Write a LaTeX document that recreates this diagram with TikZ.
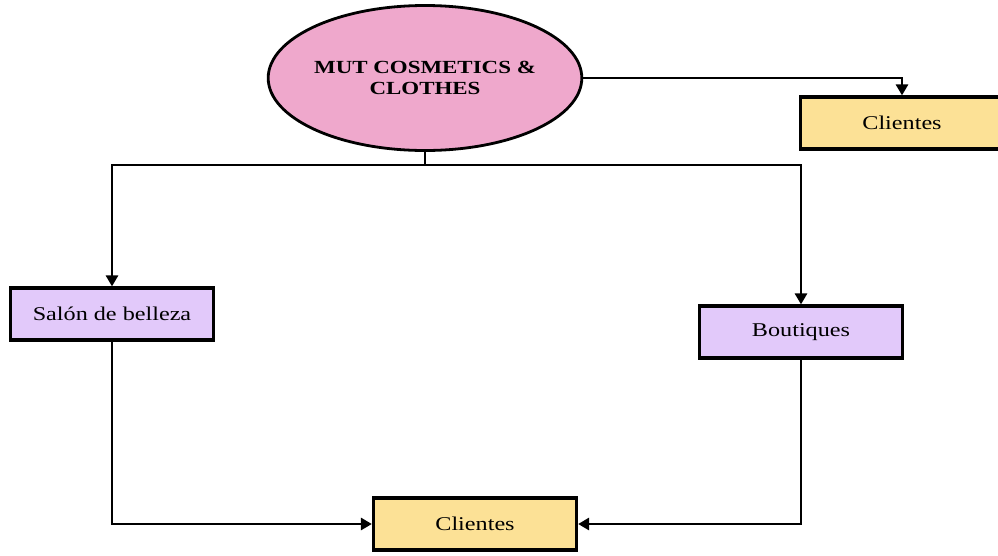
\documentclass[tikz,border=0pt]{standalone}
\usepackage{fontspec}
\setmainfont{Liberation Serif}[FakeStretch=1.24]
\usetikzlibrary{arrows.meta,shapes.geometric}
\definecolor{pinkfill}{RGB}{239,168,204}
\definecolor{lilac}{RGB}{226,201,250}
\definecolor{sand}{RGB}{252,225,150}
\tikzset{
  box/.style={draw=black, line width=3.2pt, rectangle, minimum width=203pt, minimum height=52pt,
    font=\fontsize{19.5}{20}\selectfont, inner sep=0pt},
  conn/.style={draw=black, line width=2.8pt},
  arr/.style={conn, -{Triangle[length=11pt,width=12pt]}},
}
\begin{document}
\begin{tikzpicture}[x=1pt,y=-1pt]
\useasboundingbox (0,0) rectangle (998,555);
\fill[white] (0,0) rectangle (998,555);

% central company
\node[ellipse, draw=black, line width=2.8pt, fill=pinkfill, minimum width=301pt, minimum height=145pt,
  inner sep=0pt, align=center, font=\bfseries\fontsize{18.5}{20.5}\selectfont]
  (mut) at (425,78) {MUT COSMETICS \&\\CLOTHES};

% outlets and customers
\node[box, fill=sand] (cr) at (902,123) {Clientes};
\node[box, fill=lilac] (salon) at (112,314) {Salón de belleza};
\node[box, fill=lilac] (bout) at (801,332) {Boutiques};
\node[box, fill=sand] (cb) at (475,524) {Clientes};

% connectors
\coordinate (split) at (425,165);
\draw[arr] (mut.east) -| (cr.north);
\draw[conn] (mut.south) -- (split);
\draw[arr] (split) -| (salon.north);
\draw[arr] (split) -| (bout.north);
\draw[arr] (salon.south) |- (cb.west);
\draw[arr] (bout.south) |- (cb.east);
\end{tikzpicture}
\end{document}
